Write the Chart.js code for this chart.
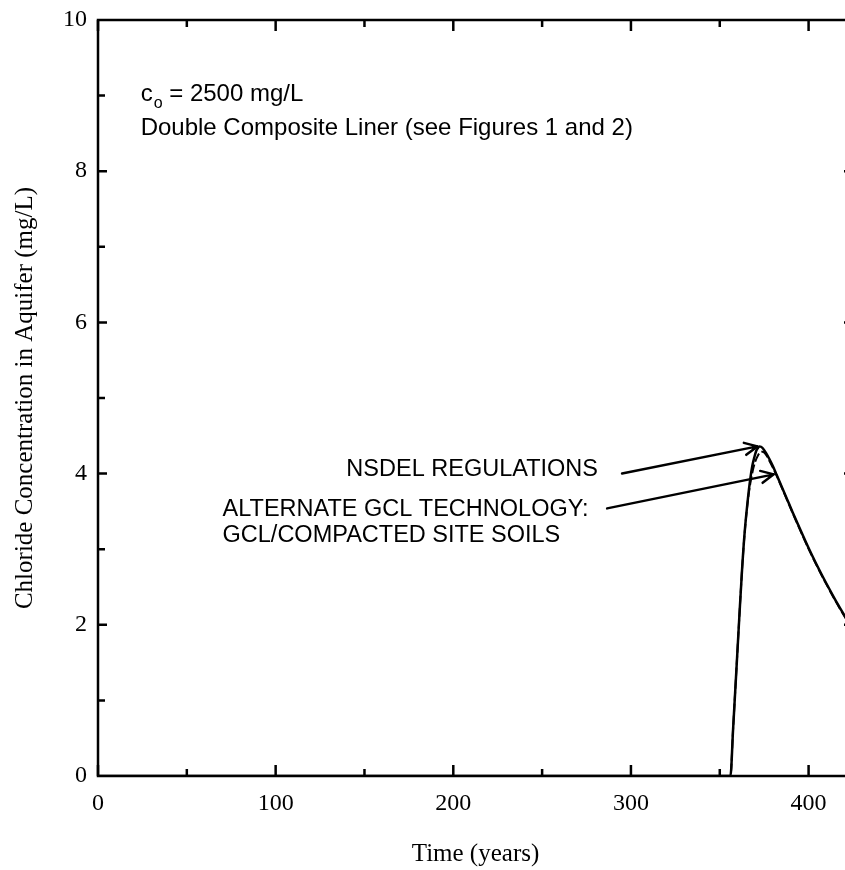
<!DOCTYPE html>
<html lang="en">
<head>
<meta charset="UTF-8">
<title>Chloride Concentration in Aquifer</title>
<script src="https://cdn.jsdelivr.net/npm/chart.js"></script>
<style>
    html, body {
        margin: 0;
        padding: 0;
        background: #fff;
        overflow: hidden;
    }

    #area {
        width: 856px;
        height: 870px;
    }
</style>
</head>
<body>
<div id="area"><canvas id="grafico" width="856" height="870"></canvas></div>
<script>
// NSDEL regulations - solid curve
var anosNsdel = [0, 356, 357.5, 359.4, 361, 362.6, 364, 365.8, 367, 368.3, 369.5, 370.5, 371.5, 372.3, 373.2, 374.2, 376, 378, 380, 382, 385, 388, 391, 394, 397, 400, 404, 408, 412, 416, 420, 425];
var concNsdel = [0, 0, 0.62, 1.42, 2.1, 2.75, 3.22, 3.66, 3.9, 4.1, 4.22, 4.3, 4.34, 4.36, 4.355, 4.335, 4.275, 4.19, 4.095, 3.985, 3.82, 3.655, 3.49, 3.33, 3.17, 3.015, 2.82, 2.635, 2.46, 2.29, 2.13, 1.94];

// Alternate GCL technology (GCL / compacted site soils) - dashed curve
var anosGcl = [0, 356, 357.5, 359.4, 361, 362.6, 364, 365.8, 367.2, 368.6, 370, 371.5, 373, 374, 375, 376.3, 377.5, 379, 380.5, 382, 385, 388, 391, 394, 397, 400, 404, 408, 412, 416, 420, 425];
var concGcl = [0, 0, 0.62, 1.42, 2.1, 2.75, 3.21, 3.64, 3.87, 4.04, 4.16, 4.24, 4.285, 4.29, 4.28, 4.24, 4.19, 4.12, 4.05, 3.975, 3.81, 3.645, 3.48, 3.32, 3.16, 3.005, 2.81, 2.625, 2.45, 2.28, 2.12, 1.93];

// tick labels
var ticksX = [0, 100, 200, 300, 400];
var ticksY = [0, 2, 4, 6, 8, 10];

// curve labels and their arrows (in data units: years, mg/L)
var setaNsdel = { de: [295.0, 4.00], para: [371.2, 4.36] };
var setaGcl = { de: [286.6, 3.54], para: [380.4, 3.99] };

var fonteTexto = '"Liberation Sans", Arial, sans-serif';
var fonteEixo = '"Liberation Serif", "Times New Roman", serif';

function montarPontos(xs, ys) {
    var pontos = [];
    for (var i = 0; i < xs.length; i++) {
        pontos.push({ x: xs[i], y: ys[i] });
    }
    return pontos;
}

// frame + inward ticks on all four sides
var moldura = {
    id: 'moldura',
    afterDatasetsDraw: function (chart) {
        var ctx = chart.ctx;
        var a = chart.chartArea;
        var sx = chart.scales.x;
        var sy = chart.scales.y;
        ctx.save();
        ctx.strokeStyle = '#000';
        ctx.lineWidth = 2.5;
        ctx.strokeRect(a.left, a.top, a.right - a.left, a.bottom - a.top);

        ctx.beginPath();
        for (var t = 0; t <= sx.max; t += 50) {
            var px = sx.getPixelForValue(t);
            var len = (t % 100 === 0) ? 11 : 7;
            ctx.moveTo(px, a.bottom);
            ctx.lineTo(px, a.bottom - len);
            ctx.moveTo(px, a.top);
            ctx.lineTo(px, a.top + len);
        }
        for (var v = 1; v < sy.max; v += 1) {
            var py = sy.getPixelForValue(v);
            var lenY = (v % 2 === 0) ? 9 : 7;
            ctx.moveTo(a.left, py);
            ctx.lineTo(a.left + lenY, py);
            ctx.moveTo(a.right, py);
            ctx.lineTo(a.right - lenY, py);
        }
        ctx.stroke();
        ctx.restore();
    }
};

function desenharSeta(chart, seta) {
    var ctx = chart.ctx;
    var sx = chart.scales.x;
    var sy = chart.scales.y;
    var x1 = sx.getPixelForValue(seta.de[0]);
    var y1 = sy.getPixelForValue(seta.de[1]);
    var x2 = sx.getPixelForValue(seta.para[0]);
    var y2 = sy.getPixelForValue(seta.para[1]);
    var ang = Math.atan2(y2 - y1, x2 - x1);
    var ponta = 14;
    var abertura = 0.45;
    ctx.beginPath();
    ctx.moveTo(x1, y1);
    ctx.lineTo(x2, y2);
    ctx.moveTo(x2 - ponta * Math.cos(ang - abertura), y2 - ponta * Math.sin(ang - abertura));
    ctx.lineTo(x2, y2);
    ctx.lineTo(x2 - ponta * Math.cos(ang + abertura), y2 - ponta * Math.sin(ang + abertura));
    ctx.stroke();
}

// text notes and arrows pointing at the curves
var anotacoes = {
    id: 'anotacoes',
    afterDatasetsDraw: function (chart) {
        var ctx = chart.ctx;
        var sx = chart.scales.x;
        var sy = chart.scales.y;
        ctx.save();
        ctx.fillStyle = '#000';
        ctx.strokeStyle = '#000';
        ctx.lineWidth = 2.5;
        ctx.lineCap = 'round';
        ctx.lineJoin = 'round';
        ctx.textBaseline = 'alphabetic';
        ctx.textAlign = 'left';

        // c_o = 2500 mg/L
        var x = sx.getPixelForValue(24);
        var y = sy.getPixelForValue(8.93);
        ctx.font = '24px ' + fonteTexto;
        ctx.fillText('c', x, y);
        var wc = ctx.measureText('c').width;
        ctx.font = '16px ' + fonteTexto;
        ctx.fillText('o', x + wc + 1, y + 7);
        var wo = ctx.measureText('o').width;
        ctx.font = '24px ' + fonteTexto;
        ctx.fillText(' = 2500 mg/L', x + wc + wo + 1, y);
        ctx.fillText('Double Composite Liner (see Figures 1 and 2)', x, sy.getPixelForValue(8.485));

        ctx.font = '23.5px ' + fonteTexto;
        ctx.fillText('NSDEL REGULATIONS', sx.getPixelForValue(139.8), sy.getPixelForValue(3.968));
        ctx.fillText('ALTERNATE GCL TECHNOLOGY:', sx.getPixelForValue(70.1), sy.getPixelForValue(3.437));
        ctx.fillText('GCL/COMPACTED SITE SOILS', sx.getPixelForValue(70.1), sy.getPixelForValue(3.093));

        desenharSeta(chart, setaNsdel);
        desenharSeta(chart, setaGcl);
        ctx.restore();
    }
};

var grafico = new Chart(document.getElementById('grafico').getContext('2d'), {
    type: 'line',
    data: {
        datasets: [{
            label: 'NSDEL REGULATIONS',
            data: montarPontos(anosNsdel, concNsdel),
            borderColor: '#000',
            borderWidth: 2.5,
            pointRadius: 0,
            fill: false,
            cubicInterpolationMode: 'monotone'
        }, {
            label: 'ALTERNATE GCL TECHNOLOGY',
            data: montarPontos(anosGcl, concGcl),
            borderColor: '#000',
            borderWidth: 2,
            borderDash: [9, 3],
            pointRadius: 0,
            fill: false,
            cubicInterpolationMode: 'monotone'
        }]
    },
    options: {
        responsive: false,
        animation: false,
        devicePixelRatio: 1,
        layout: { padding: { top: 20, right: 3, left: 0, bottom: 0 } },
        plugins: {
            legend: { display: false },
            tooltip: { enabled: false }
        },
        scales: {
            x: {
                type: 'linear',
                min: 0,
                max: 425,
                grid: { display: false, drawTicks: false },
                border: { display: false },
                afterBuildTicks: function (s) {
                    s.ticks = ticksX.map(function (v) { return { value: v }; });
                },
                afterFit: function (s) {
                    s.height = 94;
                    s.paddingLeft = 0;
                    s.paddingRight = 0;
                },
                ticks: {
                    color: '#000',
                    padding: 13,
                    maxRotation: 0,
                    font: { family: fonteEixo, size: 24 }
                },
                title: {
                    display: true,
                    text: 'Time (years)',
                    color: '#000',
                    padding: { top: 0, bottom: 1 },
                    font: { family: fonteEixo, size: 25 }
                }
            },
            y: {
                min: 0,
                max: 10,
                grid: { display: false, drawTicks: false },
                border: { display: false },
                afterBuildTicks: function (s) {
                    s.ticks = ticksY.map(function (v) { return { value: v }; });
                },
                afterFit: function (s) {
                    s.width = 98;
                    s.paddingTop = 0;
                    s.paddingBottom = 0;
                },
                ticks: {
                    color: '#000',
                    padding: 11,
                    font: { family: fonteEixo, size: 24 }
                },
                title: {
                    display: true,
                    text: 'Chloride Concentration in Aquifer (mg/L)',
                    color: '#000',
                    padding: { top: 10, bottom: 0 },
                    font: { family: fonteEixo, size: 25 }
                }
            }
        }
    },
    plugins: [moldura, anotacoes]
});
</script>
</body>
</html>
